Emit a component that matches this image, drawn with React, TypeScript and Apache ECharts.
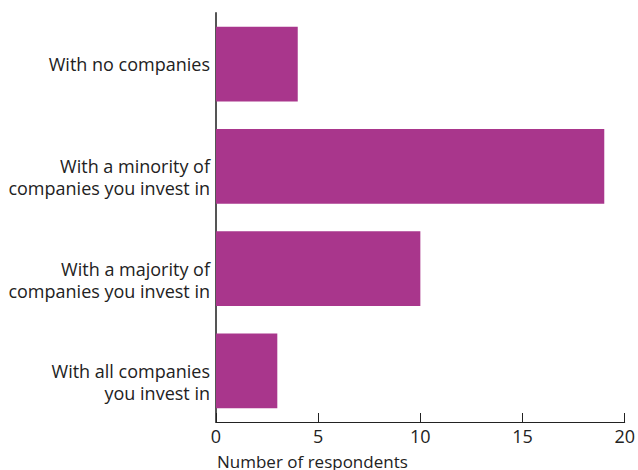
import React, { useEffect, useRef } from "react";
import * as echarts from "echarts";

const categories = [
  "With no companies",
  "With a minority of\ncompanies you invest in",
  "With a majority of\ncompanies you invest in",
  "With all companies\nyou invest in",
];
const respondents = [4, 19, 10, 3];
const xTicks = [0, 5, 10, 15, 20];
const xAxisTitle = "Number of respondents";

const FONT = "'Open Sans', sans-serif";

export default function App() {
  const ref = useRef<HTMLDivElement>(null);
  useEffect(() => {
    if (!ref.current) return;
    const chart = echarts.init(ref.current, undefined, { renderer: "svg" });
    chart.setOption({
      animation: false,
      backgroundColor: "#ffffff",
      grid: { left: 216, right: 10, top: 13, bottom: 48, containLabel: false },
      xAxis: {
        type: "value",
        min: xTicks[0],
        max: xTicks[xTicks.length - 1],
        interval: 5,
        splitLine: { show: false },
        axisLine: { show: true, lineStyle: { color: "#222", width: 1 } },
        axisTick: { show: true, inside: true, length: 9, lineStyle: { color: "#222", width: 1 } },
        axisLabel: { color: "#222", fontSize: 18, fontFamily: FONT, margin: 5 },
      },
      yAxis: {
        type: "category",
        inverse: true,
        data: categories,
        axisLine: { show: true, lineStyle: { color: "#555", width: 2 } },
        axisTick: { show: false },
        axisLabel: {
          color: "#222",
          fontSize: 18,
          fontFamily: FONT,
          margin: 6,
          lineHeight: 22,
          align: "right",
          formatter: (v: string) => (v.indexOf("\n") >= 0 ? "\n" + v : v),
        },
      },
      graphic: [
        {
          type: "text",
          left: 217,
          top: 453,
          style: { text: xAxisTitle, fill: "#222", font: `17px ${FONT}` },
        },
      ],
      series: [
        {
          type: "bar",
          data: respondents,
          barCategoryGap: "27%",
          itemStyle: { color: "#a9368c" },
        },
      ],
    });
    return () => chart.dispose();
  }, []);
  return <div ref={ref} style={{ width: 638, height: 470, position: "absolute", left: 0, top: 0 }} />;
}
